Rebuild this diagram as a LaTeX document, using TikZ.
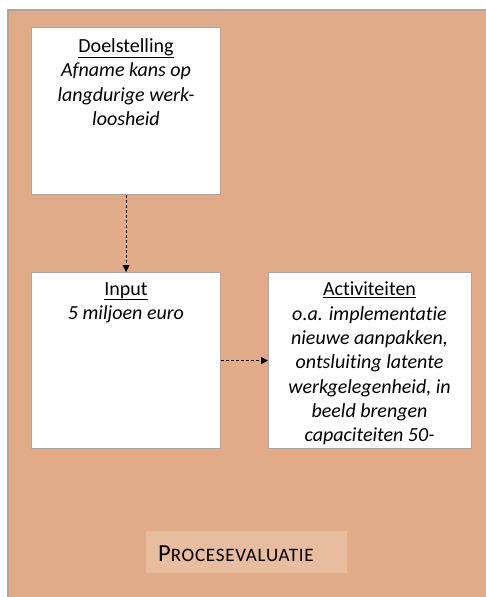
\documentclass[tikz,border=0pt]{standalone}
\usepackage{fontspec}
\setmainfont[Ligatures={NoCommon}]{Carlito}
\usetikzlibrary{arrows.meta}
\definecolor{bg}{HTML}{E1AA88}
\definecolor{lbl}{HTML}{E7BC9F}
\definecolor{edge}{HTML}{A6A6A6}
\begin{document}
\begin{tikzpicture}[x=1pt,y=-1pt,
  box/.style={draw=edge, line width=1.2pt, fill=white, anchor=north west, inner sep=0pt},
  txt/.style={anchor=north, inner sep=0pt, align=center, font=\fontsize{20}{24.3}\selectfont},
  conn/.style={line width=0.8pt, dash pattern=on 3pt off 2pt, -{Triangle[length=7pt,width=7pt]}}]
\useasboundingbox (0,0) rectangle (485,597);
\fill[white] (0,0) rectangle (485,597);
\fill[bg] (8,10) rectangle (486,598);
\draw[edge, line width=1.2pt] (8,598) -- (8,10) -- (486,10);
\node[box, minimum width=189pt, minimum height=167pt] (doel) at (31,27) {};
\node[box, minimum width=189pt, minimum height=176pt] (input) at (31,272) {};
\node[box, minimum width=203pt, minimum height=176pt] (act) at (268,272) {};
\node[fill=lbl, anchor=north west, inner sep=0pt, minimum width=201pt, minimum height=42pt] (proc) at (146,531) {};
\node[txt] (doelt) at (126,38.5) {\underline{Doelstelling}\\ \itshape Afname kans op\\ \itshape langdurige werk-\\ \itshape loosheid};
\node[txt] (inputt) at (126,282) {\underline{Input}\\ \itshape 5 miljoen euro};
\node[txt] (actt) at (369.5,282) {\underline{Activiteiten}\\ \itshape o.a. implementatie\\ \itshape nieuwe aanpakken,\\ \itshape ontsluiting latente\\ \itshape werkgelegenheid, in\\ \itshape beeld brengen\\ \itshape capaciteiten 50-};
\node[anchor=base west, inner sep=0pt, font=\fontsize{24.5}{28}\selectfont] (proct) at (158,561) {P{\fontsize{19}{22}\selectfont\addfontfeature{LetterSpace=4}ROCESEVALUATIE}};
\draw[conn] (doel.south) -- (input.north);
\draw[conn] (input.east) -- (act.west);
\end{tikzpicture}
\end{document}
